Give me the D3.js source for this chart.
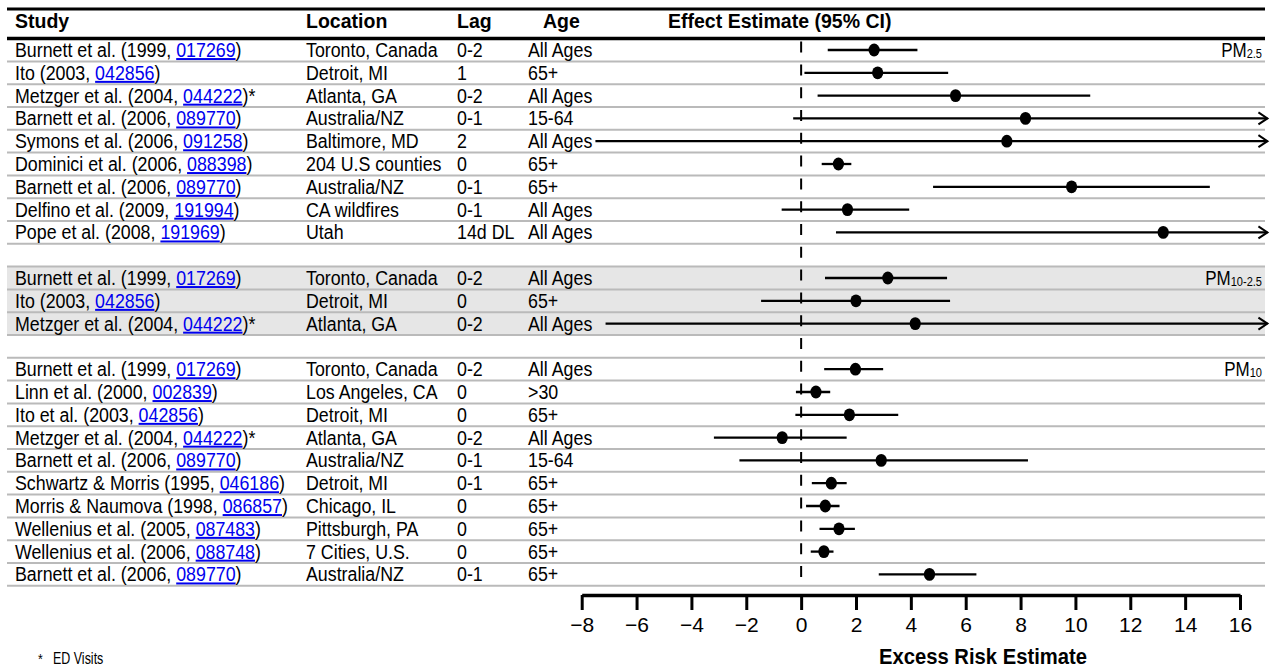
<!DOCTYPE html>
<html>
<head>
<meta charset="utf-8">
<script src="https://cdn.jsdelivr.net/npm/d3@7/dist/d3.min.js"></script>
<style>
  html, body { margin: 0; padding: 0; background: #fff; }
  svg { display: block; }
  .narrow { font-family: 'Liberation Sans', Arial, sans-serif; }
</style>
</head>
<body>
<svg id="chart" width="1273" height="669"></svg>
<script>
// ---- Study table ----
const authors = [
  "Burnett et al. (1999, ", "Ito (2003, ", "Metzger et al. (2004, ", "Barnett et al. (2006, ",
  "Symons et al. (2006, ", "Dominici et al. (2006, ", "Barnett et al. (2006, ", "Delfino et al. (2009, ",
  "Pope et al. (2008, ",
  "Burnett et al. (1999, ", "Ito (2003, ", "Metzger et al. (2004, ",
  "Burnett et al. (1999, ", "Linn et al. (2000, ", "Ito et al. (2003, ", "Metzger et al. (2004, ",
  "Barnett et al. (2006, ", "Schwartz & Morris (1995, ", "Morris & Naumova (1998, ",
  "Wellenius et al. (2005, ", "Wellenius et al. (2006, ", "Barnett et al. (2006, "
];
const refIds = [
  "017269", "042856", "044222", "089770", "091258", "088398", "089770", "191994", "191969",
  "017269", "042856", "044222",
  "017269", "002839", "042856", "044222", "089770", "046186", "086857", "087483", "088748", "089770"
];
const edVisits = [
  false, false, true, false, false, false, false, false, false,
  false, false, true,
  false, false, false, true, false, false, false, false, false, false
];
const locations = [
  "Toronto, Canada", "Detroit, MI", "Atlanta, GA", "Australia/NZ", "Baltimore, MD",
  "204 U.S counties", "Australia/NZ", "CA wildfires", "Utah",
  "Toronto, Canada", "Detroit, MI", "Atlanta, GA",
  "Toronto, Canada", "Los Angeles, CA", "Detroit, MI", "Atlanta, GA", "Australia/NZ",
  "Detroit, MI", "Chicago, IL", "Pittsburgh, PA", "7 Cities, U.S.", "Australia/NZ"
];
const lags = [
  "0-2", "1", "0-2", "0-1", "2", "0", "0-1", "0-1", "14d DL",
  "0-2", "0", "0-2",
  "0-2", "0", "0", "0-2", "0-1", "0-1", "0", "0", "0", "0-1"
];
const ages = [
  "All Ages", "65+", "All Ages", "15-64", "All Ages", "65+", "65+", "All Ages", "All Ages",
  "All Ages", "65+", "All Ages",
  "All Ages", ">30", "65+", "All Ages", "15-64", "65+", "65+", "65+", "65+", "65+"
];
// pollutant group of each study: 0 = PM2.5, 1 = PM10-2.5, 2 = PM10
const groupOf = [0,0,0,0,0,0,0,0,0, 1,1,1, 2,2,2,2,2,2,2,2,2,2];

// ---- Effect estimates (excess risk, %) with 95% CI ----
const estimates = [2.66, 2.79, 5.63, 8.18, 7.5, 1.36, 9.86, 1.69, 13.2,
                   3.16, 2.0, 4.16,
                   1.98, 0.54, 1.76, -0.69, 2.92, 1.1, 0.88, 1.38, 0.83, 4.68];
const lower =     [0.97, 0.12, 0.6, -0.29, -7.5, 0.75, 4.81, -0.71, 1.27,
                   0.87, -1.46, -7.13,
                   0.84, -0.19, -0.21, -3.18, -2.25, 0.39, 0.18, 0.67, 0.35, 2.83];
const upper =     [4.24, 5.36, 10.54, 17.6, 22.5, 1.83, 14.9, 3.94, 25.1,
                   5.32, 5.43, 17.5,
                   2.99, 1.06, 3.54, 1.66, 8.27, 1.66, 1.4, 1.96, 1.18, 6.39];

// ---- Pollutant labels and axis ticks ----
const groupMain = ["PM", "PM", "PM"];
const groupSub = ["2.5", "10-2.5", "10"];
const tickValues = [-8, -6, -4, -2, 0, 2, 4, 6, 8, 10, 12, 14, 16];
const headers = ["Study", "Location", "Lag", "Age", "Effect Estimate (95% CI)"];

// ---- Layout ----
const svg = d3.select("#chart");
const leftEdge = 7, rightEdge = 1265;
const colX = [15, 306, 457, 528];
const headerX = [15, 306, 457, 543, 668];

// place a text at (px, py) with a condensed horizontal scale
function placeNarrow(sel, px, py, sx) {
  sel.attr("x", 0).attr("y", 0)
     .attr("transform", (d, i) => `translate(${typeof px === "function" ? px(d, i) : px},${typeof py === "function" ? py(d, i) : py}) scale(${sx},1)`);
}

// row slot of each study: one empty slot between pollutant groups
const slotOf = groupOf.map((g, i) => i + g);
const nSlots = d3.max(slotOf) + 1;
const y = d3.scaleLinear().domain([0, nSlots - 1]).range([50, 574.4]);
const rowH = (y(1) - y(0));

const x = d3.scaleLinear().domain([-8, 16]).range([581.7, 1240]);
const clipMax = 17; // values beyond this run off the panel as arrows

// shaded band behind the PM10-2.5 group
const g1 = slotOf.filter((s, i) => groupOf[i] === 1);
svg.append("rect")
  .attr("x", leftEdge).attr("width", rightEdge - leftEdge)
  .attr("y", y(d3.min(g1)) - rowH / 2)
  .attr("height", (d3.max(g1) - d3.min(g1) + 1) * rowH)
  .attr("fill", "#e6e6e6");

// grey row separators
svg.append("g").selectAll("line")
  .data(d3.range(1, nSlots + 1))
  .join("line")
  .attr("x1", leftEdge).attr("x2", rightEdge)
  .attr("y1", s => y(s) - rowH / 2).attr("y2", s => y(s) - rowH / 2)
  .attr("stroke", "#bababa").attr("stroke-width", 2);

// top rule and header rule
svg.append("line").attr("x1", leftEdge).attr("x2", rightEdge)
  .attr("y1", 9).attr("y2", 9).attr("stroke", "#000").attr("stroke-width", 3);
svg.append("line").attr("x1", leftEdge).attr("x2", rightEdge)
  .attr("y1", y(0) - rowH / 2).attr("y2", y(0) - rowH / 2)
  .attr("stroke", "#000").attr("stroke-width", 3.5);

// column headers
svg.append("g").selectAll("text")
  .data(headers)
  .join("text")
  .attr("class", "narrow")
  .attr("font-size", 21).attr("font-weight", "bold")
  .call(placeNarrow, (d, i) => headerX[i], 28, 0.93)
  .text(d => d);

// table text
const rows = svg.append("g").attr("class", "narrow").attr("font-size", 20);
const studyText = rows.selectAll("text.study")
  .data(authors)
  .join("text")
  .attr("class", "study")
  .call(placeNarrow, colX[0], (d, i) => y(slotOf[i]) + 7, 0.89);
studyText.append("tspan").text(d => d);
studyText.append("tspan")
  .attr("fill", "#0000ee")
  .attr("text-decoration", "underline")
  .text((d, i) => refIds[i]);
studyText.append("tspan").text((d, i) => ")" + (edVisits[i] ? "*" : ""));

[locations, lags, ages].forEach((col, c) => {
  rows.selectAll("text.c" + c)
    .data(col)
    .join("text")
    .attr("class", "c" + c)
    .call(placeNarrow, colX[c + 1], (d, i) => y(slotOf[i]) + 7, 0.89)
    .text(d => d);
});

// pollutant labels at the right of each group's first row
const firstSlot = groupSub.map((s, g) => d3.min(slotOf.filter((v, i) => groupOf[i] === g)));
const pm = svg.append("g").selectAll("text")
  .data(groupSub)
  .join("text")
  .attr("class", "narrow")
  .attr("text-anchor", "end")
  .attr("font-size", 20)
  .call(placeNarrow, 1262, (d, g) => y(firstSlot[g]) + 7, 0.85);
pm.append("tspan").text((d, g) => groupMain[g]);
pm.append("tspan").attr("font-size", 13).attr("dy", 1).text(d => d);

// dashed null line
svg.append("line")
  .attr("x1", x(0)).attr("x2", x(0))
  .attr("y1", y(0) - rowH / 2 + 3).attr("y2", y(nSlots - 1) + rowH / 2 + 2)
  .attr("stroke", "#000").attr("stroke-width", 2)
  .attr("stroke-dasharray", "11,11.8");

// confidence intervals
const ci = svg.append("g");
ci.selectAll("line")
  .data(estimates)
  .join("line")
  .attr("x1", (d, i) => x(lower[i]))
  .attr("x2", (d, i) => x(Math.min(upper[i], clipMax)))
  .attr("y1", (d, i) => y(slotOf[i])).attr("y2", (d, i) => y(slotOf[i]))
  .attr("stroke", "#000").attr("stroke-width", 2.3);

// open arrowheads on intervals that run past the panel
ci.selectAll("path")
  .data(estimates.map((d, i) => i).filter(i => upper[i] > clipMax))
  .join("path")
  .attr("d", i => {
    const tx = x(clipMax), ty = y(slotOf[i]);
    return `M${tx - 9},${ty - 6}L${tx},${ty}L${tx - 9},${ty + 6}`;
  })
  .attr("fill", "none").attr("stroke", "#000").attr("stroke-width", 2);

// point estimates
svg.append("g").selectAll("ellipse")
  .data(estimates)
  .join("ellipse")
  .attr("cx", d => x(d))
  .attr("cy", (d, i) => y(slotOf[i]))
  .attr("rx", 5.6).attr("ry", 6.4)
  .attr("fill", "#000");

// x axis
const axis = svg.append("g")
  .attr("transform", "translate(0,595)")
  .call(d3.axisBottom(x).tickValues(tickValues).tickSize(15).tickSizeOuter(0).tickPadding(7));
axis.select(".domain").attr("stroke", "#000").attr("stroke-width", 3.5);
axis.selectAll(".tick line").attr("stroke", "#000").attr("stroke-width", 3);
axis.selectAll(".tick text")
  .attr("font-family", "'Liberation Sans', Arial, sans-serif")
  .attr("font-size", 21).attr("fill", "#000");

svg.append("text")
  .attr("class", "narrow")
  .attr("text-anchor", "middle")
  .attr("font-size", 22).attr("font-weight", "bold")
  .call(placeNarrow, 983, 664, 0.92)
  .text("Excess Risk Estimate");

// footnote
svg.append("text").attr("class", "narrow")
  .attr("font-size", 15).call(placeNarrow, 38, 664, 0.82).text("*");
svg.append("text").attr("class", "narrow")
  .attr("font-size", 16).call(placeNarrow, 53, 664, 0.78).text("ED Visits");
</script>
</body>
</html>
